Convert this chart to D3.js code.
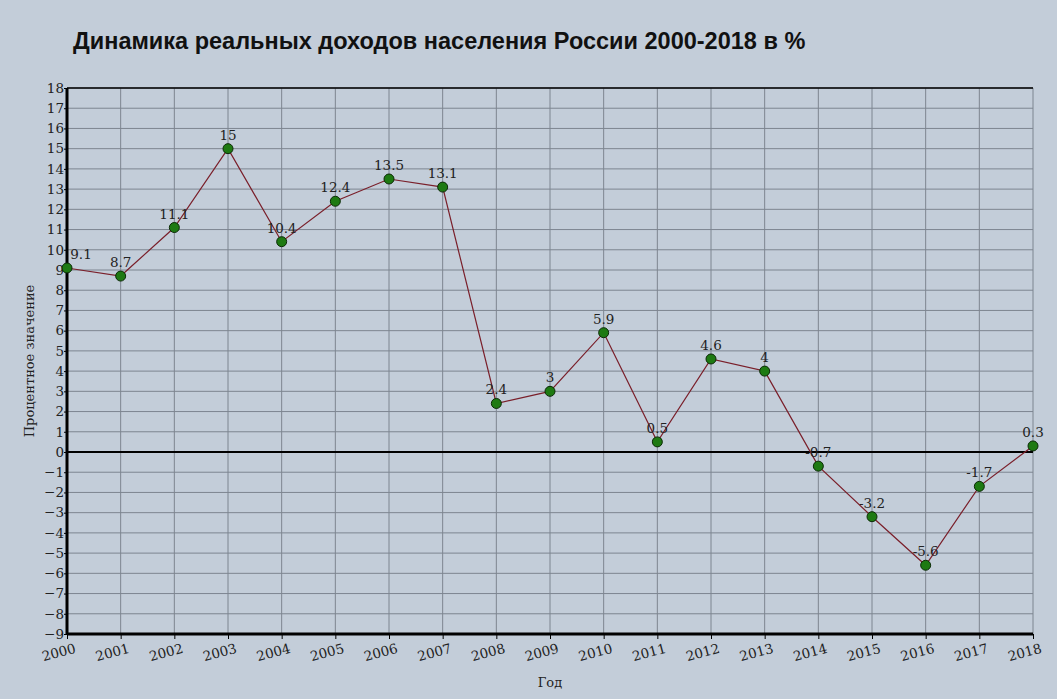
<!DOCTYPE html>
<html><head><meta charset="utf-8">
<script src="https://cdn.jsdelivr.net/npm/d3@7"></script>
<style>body{margin:0;background:#c3cdd9;}</style>
</head><body>
<div id="chart"></div>
<script>
// chart data
const years = ["2000","2001","2002","2003","2004","2005","2006","2007","2008","2009","2010","2011","2012","2013","2014","2015","2016","2017","2018"];
const values = [9.1, 8.7, 11.1, 15, 10.4, 12.4, 13.5, 13.1, 2.4, 3, 5.9, 0.5, 4.6, 4, -0.7, -3.2, -5.6, -1.7, 0.3];
const yTicks = d3.range(-9, 19);

const W = 1057, H = 699;
const margin = { top: 88, right: 24, bottom: 65, left: 67 };
const width = W - margin.left - margin.right;
const height = H - margin.top - margin.bottom;

const root = d3.select("#chart").append("svg")
    .attr("width", W).attr("height", H)
    .style("background", "#c3cdd9");

root.append("text")
    .attr("x", 73).attr("y", 49)
    .attr("font-family", "Liberation Sans, Arial, sans-serif")
    .attr("font-weight", "bold").attr("font-size", 23.5)
    .attr("fill", "#111")
    .text("Динамика реальных доходов населения России 2000-2018 в %");

const svg = root.append("g").attr("transform", `translate(${margin.left},${margin.top})`);

const x = d3.scalePoint().domain(years).range([0, width]);
const y = d3.scaleLinear().domain([-9, 18]).range([height, 0]);

// grid
svg.selectAll(".hg").data(yTicks).enter().append("line")
    .attr("x1", 0).attr("x2", width)
    .attr("y1", d => y(d)).attr("y2", d => y(d))
    .attr("stroke", "#7d8590").attr("stroke-width", 1);
svg.selectAll(".vg").data(years).enter().append("line")
    .attr("x1", d => x(d)).attr("x2", d => x(d))
    .attr("y1", 0).attr("y2", height)
    .attr("stroke", "#7d8590").attr("stroke-width", 1);

// frame lines
svg.append("line").attr("x1", 0).attr("x2", width).attr("y1", 0).attr("y2", 0).attr("stroke", "#000").attr("stroke-width", 1.5);
svg.append("line").attr("x1", 0).attr("x2", width).attr("y1", y(0)).attr("y2", y(0)).attr("stroke", "#000").attr("stroke-width", 2);
svg.append("line").attr("x1", 0).attr("x2", width).attr("y1", height).attr("y2", height).attr("stroke", "#000").attr("stroke-width", 3);
svg.append("line").attr("x1", 0).attr("x2", 0).attr("y1", 0).attr("y2", height).attr("stroke", "#000").attr("stroke-width", 3);

// y axis
const yAxis = svg.append("g").call(d3.axisLeft(y).tickValues(yTicks).tickSize(3).tickFormat(d3.format("d")));
yAxis.select(".domain").remove();
yAxis.selectAll("text").attr("font-family", "DejaVu Serif, serif").attr("font-size", 13.5).attr("fill", "#222").attr("x", -3);

// x axis
const xAxis = svg.append("g").attr("transform", `translate(0,${height})`)
    .call(d3.axisBottom(x).tickSize(5));
xAxis.select(".domain").remove();
xAxis.selectAll("text")
    .attr("font-family", "DejaVu Serif, serif").attr("font-size", 13.5).attr("fill", "#222")
    .attr("text-anchor", "end").attr("dx", "0.3em").attr("dy", "0.9em")
    .attr("transform", "rotate(-15)");

// axis titles
root.append("text")
    .attr("transform", `translate(34,${margin.top + y(4.5)}) rotate(-90)`)
    .attr("text-anchor", "middle")
    .attr("font-family", "DejaVu Serif, serif").attr("font-size", 13).attr("fill", "#222")
    .text("Процентное значение");
root.append("text")
    .attr("x", 550).attr("y", 687).attr("text-anchor", "middle")
    .attr("font-family", "DejaVu Serif, serif").attr("font-size", 13).attr("fill", "#222")
    .text("Год");

// line
const line = d3.line().x((d, i) => x(years[i])).y(d => y(d));
svg.append("path").datum(values).attr("d", line)
    .attr("fill", "none").attr("stroke", "#7a1f2a").attr("stroke-width", 1.2);

svg.selectAll(".pt").data(values).enter().append("circle")
    .attr("cx", (d, i) => x(years[i])).attr("cy", d => y(d)).attr("r", 5)
    .attr("fill", "#1e7a12").attr("stroke", "#0b2a06").attr("stroke-width", 1);

svg.selectAll(".lbl").data(values).enter().append("text")
    .attr("x", (d, i) => x(years[i]) + (i === 0 ? 14 : 0))
    .attr("y", d => y(d) - 9)
    .attr("text-anchor", "middle")
    .attr("font-family", "DejaVu Serif, serif").attr("font-size", 13.5).attr("fill", "#222")
    .text(d => d);
</script>
</body></html>
